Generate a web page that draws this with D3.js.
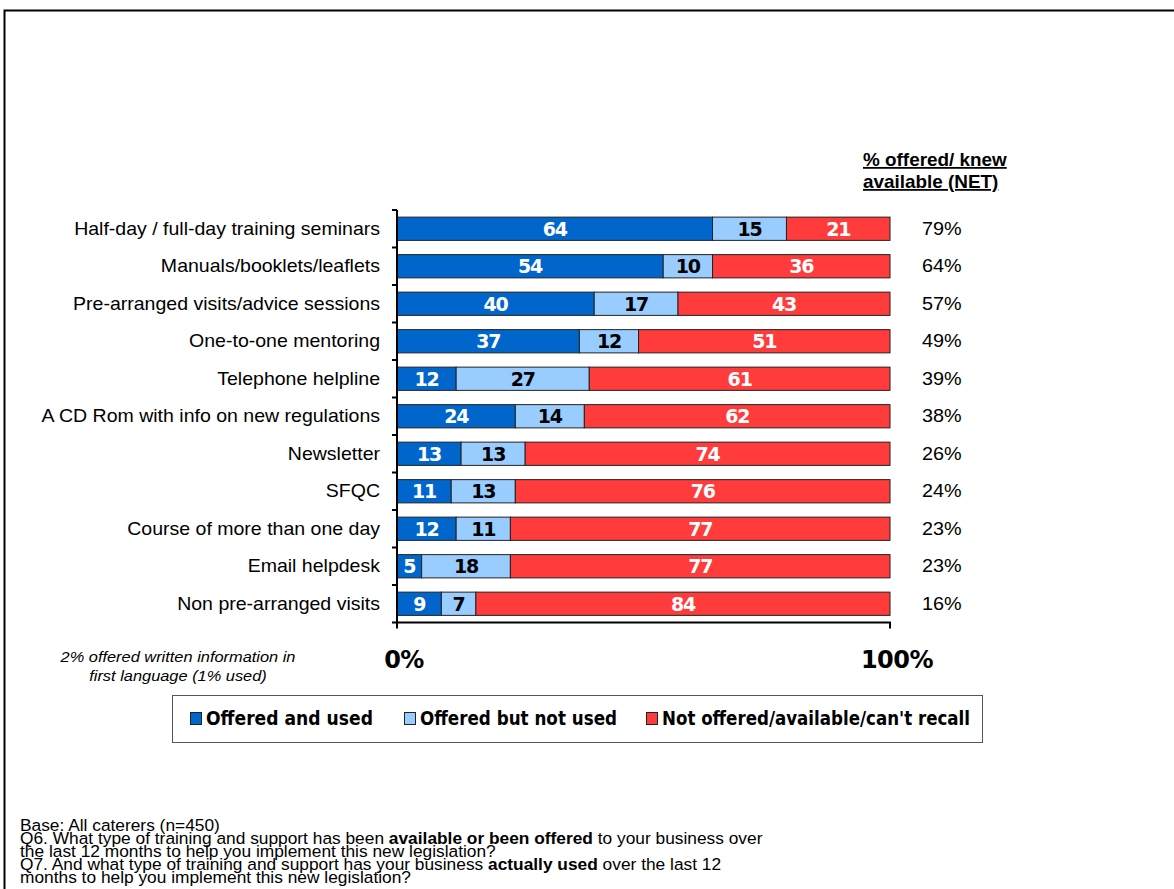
<!DOCTYPE html>
<html>
<head>
<meta charset="utf-8">
<script src="https://cdn.jsdelivr.net/npm/d3@7/dist/d3.min.js"></script>
<style>
  html, body { margin: 0; padding: 0; background: #fff; }
  svg { display: block; }
</style>
</head>
<body>
<svg id="chart" width="1174" height="889"></svg>
<script>
// Training and support offered / used by caterers
const categories = [
  "Half-day / full-day training seminars",
  "Manuals/booklets/leaflets",
  "Pre-arranged visits/advice sessions",
  "One-to-one mentoring",
  "Telephone helpline",
  "A CD Rom with info on new regulations",
  "Newsletter",
  "SFQC",
  "Course of more than one day",
  "Email helpdesk",
  "Non pre-arranged visits"
];
const offeredUsed    = [64, 54, 40, 37, 12, 24, 13, 11, 12, 5, 9];
const offeredNotUsed = [15, 10, 17, 12, 27, 14, 13, 13, 11, 18, 7];
const notOffered     = [21, 36, 43, 51, 61, 62, 74, 76, 77, 77, 84];
const netOffered     = [79, 64, 57, 49, 39, 38, 26, 24, 23, 23, 16];
const seriesNames = ["Offered and used", "Offered but not used", "Not offered/available/can't recall"];
const seriesColors = ["#0066CC", "#99CCFF", "#FF3B3B"];
const labelColors = ["#ffffff", "#000000", "#ffffff"];
const axisTicks = [0, 100];

const svg = d3.select("#chart");
const SANS = "Liberation Sans, Arial, sans-serif";
const WIDE = 1.085; // horizontal stretch of the plain text

// outer frame
svg.append("path")
  .attr("d", "M4.5,900 L4.5,10.5 L1180,10.5")
  .attr("fill", "none").attr("stroke", "#000").attr("stroke-width", 2);

const x = d3.scaleLinear().domain([0, 100]).range([397, 890]);
const y = d3.scaleBand().domain(categories).range([210, 622.5]).paddingInner(0.38).paddingOuter(0.19);

const rows = categories.map((c, i) => ({
  cat: c,
  vals: [offeredUsed[i], offeredNotUsed[i], notOffered[i]],
  net: netOffered[i]
}));

const stackData = rows.map(r => ({ cat: r.cat, s0: r.vals[0], s1: r.vals[1], s2: r.vals[2] }));
const stacked = d3.stack().keys(["s0", "s1", "s2"])(stackData);

const gBars = svg.append("g");
stacked.forEach((layer, si) => {
  const g = gBars.append("g");
  g.selectAll("rect").data(layer).join("rect")
    .attr("x", d => x(d[0]))
    .attr("y", d => y(d.data.cat))
    .attr("width", d => x(d[1]) - x(d[0]))
    .attr("height", y.bandwidth())
    .attr("fill", seriesColors[si])
    .attr("stroke", "#222")
    .attr("stroke-width", 1);
  g.selectAll("text").data(layer).join("text")
    .attr("x", d => (x(d[0]) + x(d[1])) / 2)
    .attr("y", d => y(d.data.cat) + y.bandwidth() / 2 + 7)
    .attr("text-anchor", "middle")
    .attr("font-family", "DejaVu Sans, Verdana, sans-serif")
    .attr("font-weight", "bold")
    .attr("font-size", 19)
    .attr("letter-spacing", -1.2)
    .attr("fill", labelColors[si])
    .text(d => d[1] - d[0]);
});

// category axis
const yAxis = svg.append("g").attr("transform", "translate(397,0)");
yAxis.append("line").attr("x1", 0).attr("x2", 0).attr("y1", 210).attr("y2", 628)
  .attr("stroke", "#000").attr("stroke-width", 2);
const boundaries = categories.map(c => y(c) - y.step() * y.paddingInner() / 2).concat([622.5]);
yAxis.selectAll("line.tk").data(boundaries).join("line").attr("class", "tk")
  .attr("x1", -5).attr("x2", 0).attr("y1", d => d).attr("y2", d => d)
  .attr("stroke", "#000").attr("stroke-width", 2);

svg.append("g").selectAll("text").data(categories).join("text")
  .attr("transform", d => `translate(380,${y(d) + y.bandwidth() / 2 + 6}) scale(${WIDE},1)`)
  .attr("text-anchor", "end")
  .attr("font-family", SANS)
  .attr("font-size", 18)
  .attr("fill", "#000")
  .text(d => d);

// value axis
const xAxisG = svg.append("g").attr("transform", "translate(0,622.5)");
xAxisG.append("line").attr("x1", x(0)).attr("x2", x(100) + 1).attr("y1", 0).attr("y2", 0)
  .attr("stroke", "#000").attr("stroke-width", 2);
xAxisG.selectAll("line.tk").data(axisTicks).join("line").attr("class", "tk")
  .attr("x1", d => x(d)).attr("x2", d => x(d)).attr("y1", 0).attr("y2", 6)
  .attr("stroke", "#000").attr("stroke-width", 2);
svg.append("g").selectAll("text").data(axisTicks).join("text")
  .attr("x", d => x(d) + 7)
  .attr("y", 668)
  .attr("text-anchor", "middle")
  .attr("font-family", "DejaVu Sans, Verdana, sans-serif")
  .attr("font-weight", "bold")
  .attr("font-size", 24)
  .attr("letter-spacing", -0.5)
  .text(d => d + "%");

// NET column
const hdr = svg.append("g").attr("font-family", SANS)
  .attr("font-weight", "bold").attr("font-size", 18);
hdr.append("text").attr("transform", `translate(863,166) scale(1.05,1)`)
  .attr("text-decoration", "underline").text("% offered/ knew");
hdr.append("text").attr("transform", `translate(863,188) scale(1.05,1)`)
  .attr("text-decoration", "underline").text("available (NET)");

svg.append("g").selectAll("text").data(rows).join("text")
  .attr("transform", d => `translate(922,${y(d.cat) + y.bandwidth() / 2 + 6}) scale(1.1,1)`)
  .attr("font-family", SANS)
  .attr("font-size", 18)
  .text(d => d.net + "%");

// side note
const note = svg.append("g").attr("font-family", SANS)
  .attr("font-style", "italic").attr("font-size", 14.5).attr("text-anchor", "middle");
note.append("text").attr("transform", "translate(178,662) scale(1.13,1)").text("2% offered written information in");
note.append("text").attr("transform", "translate(178,681) scale(1.13,1)").text("first language (1% used)");

// legend
const lg = svg.append("g");
lg.append("rect").attr("x", 172.5).attr("y", 695.5).attr("width", 810).attr("height", 47)
  .attr("fill", "#fff").attr("stroke", "#555").attr("stroke-width", 1);
const legendX = [190, 404, 646];
const legendW = [167, 197, 308];
seriesNames.forEach((n, i) => {
  lg.append("rect").attr("x", legendX[i] + 0.5).attr("y", 712.5).attr("width", 11).attr("height", 12)
    .attr("fill", seriesColors[i]).attr("stroke", "#222").attr("stroke-width", 1);
  lg.append("text").attr("x", legendX[i] + 16).attr("y", 725)
    .attr("font-family", "DejaVu Sans, Verdana, sans-serif")
    .attr("font-weight", "bold").attr("font-size", 19)
    .attr("textLength", legendW[i]).attr("lengthAdjust", "spacingAndGlyphs")
    .text(n);
});

// base and question text
const foot = svg.append("g").attr("font-family", "Liberation Sans Narrow, Arial Narrow, Liberation Sans, Arial, sans-serif")
  .attr("font-size", 17);
const footLines = [
  [["Base: All caterers (n=450)", false]],
  [["Q6. What type of training and support has been ", false], ["available or been offered", true], [" to your business over", false]],
  [["the last 12 months to help you implement this new legislation?", false]],
  [["Q7. And what type of training and support has your business ", false], ["actually used", true], [" over the last 12", false]],
  [["months to help you implement this new legislation?", false]]
];
const footTexts = footLines.map((parts, i) => {
  const t = foot.append("text").attr("x", 0).attr("y", 831 + i * 13);
  parts.forEach(p => t.append("tspan").attr("font-weight", p[1] ? "bold" : "normal").text(p[0]));
  return t;
});
const refW = footTexts[1].node().getComputedTextLength();
const sx = 743 / refW;
foot.attr("transform", `translate(20,0) scale(${sx},1)`);
</script>
</body>
</html>
